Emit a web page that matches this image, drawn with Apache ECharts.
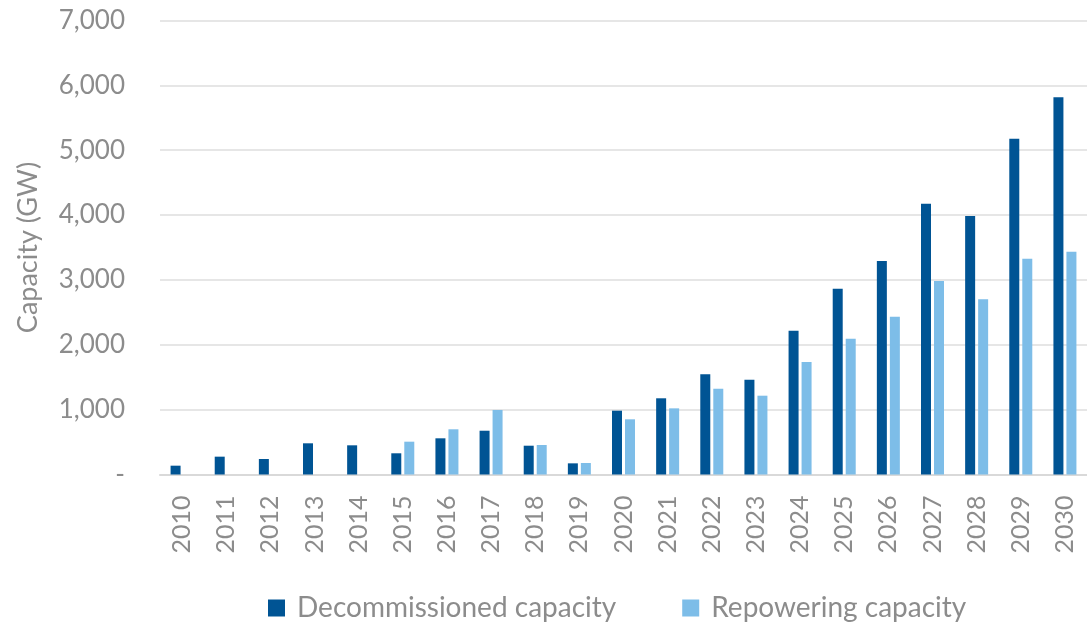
<!DOCTYPE html>
<html>
<head>
<meta charset="utf-8">
<script src="https://cdn.jsdelivr.net/npm/echarts@6/dist/echarts.min.js"></script>
<style>
html,body{margin:0;padding:0;background:#fff;}
#chart{width:1087px;height:623px;}
</style>
</head>
<body>
<div id="chart"></div>
<script>
const years = ['2010','2011','2012','2013','2014','2015','2016','2017','2018','2019','2020','2021','2022','2023','2024','2025','2026','2027','2028','2029','2030'];
const decommissioned = [136, 275, 239, 481, 450, 327, 558, 675, 444, 172, 984, 1175, 1545, 1460, 2218, 2865, 3292, 4176, 3986, 5178, 5817];
const repowering = [null, null, null, null, null, 506, 697, 995, 455, 177, 851, 1020, 1323, 1215, 1735, 2094, 2434, 2984, 2702, 3328, 3436];
const yTicks = [0, 1000, 2000, 3000, 4000, 5000, 6000, 7000];

const FONT = 'Lato';
const GREY = '#8c8c8c';

const chart = echarts.init(document.getElementById('chart'));
chart.setOption({
  animation: false,
  textStyle: { fontFamily: FONT },
  grid: { left: 160, right: -6, top: 20.5, bottom: 148.5, containLabel: false },
  legend: {
    bottom: -4,
    left: 263,
    itemWidth: 17,
    itemHeight: 17,
    itemGap: 66,
    icon: 'rect',
    textStyle: { fontFamily: FONT, fontSize: 28, color: GREY, padding: [0, 0, 0, 7] },
    data: ['Decommissioned capacity', 'Repowering capacity']
  },
  xAxis: {
    type: 'category',
    data: years,
    axisTick: { show: false },
    axisLine: { show: true, lineStyle: { color: '#d9d9d9', width: 2 } },
    axisLabel: { rotate: 90, margin: 21, fontFamily: FONT, fontSize: 25, color: GREY }
  },
  yAxis: {
    type: 'value',
    min: yTicks[0],
    max: yTicks[yTicks.length - 1],
    interval: 1000,
    name: 'Capacity (GW)',
    nameLocation: 'middle',
    nameGap: 118,
    nameTextStyle: { fontFamily: FONT, fontSize: 27, color: GREY },
    axisLine: { show: false },
    axisTick: { show: false },
    splitLine: { lineStyle: { color: '#e6e6e6', width: 2 } },
    axisLabel: {
      margin: 35,
      fontFamily: FONT,
      fontSize: 26,
      color: GREY,
      formatter: v => v === 0 ? '-' : v.toLocaleString('en-US')
    }
  },
  series: [
    {
      name: 'Decommissioned capacity',
      type: 'bar',
      data: decommissioned,
      barWidth: 10,
      barGap: '30%',
      itemStyle: { color: '#005494' }
    },
    {
      name: 'Repowering capacity',
      type: 'bar',
      data: repowering,
      barWidth: 10,
      itemStyle: { color: '#7dbde8' }
    }
  ]
});
</script>
</body>
</html>
